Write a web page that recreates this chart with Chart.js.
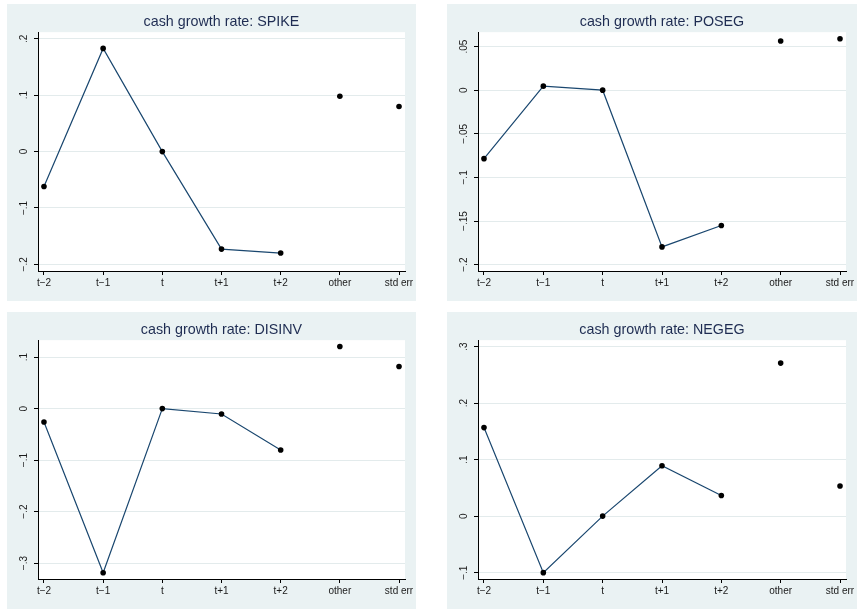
<!DOCTYPE html>
<html>
<head>
<meta charset="utf-8">
<script src="https://cdn.jsdelivr.net/npm/chart.js@4.4.1/dist/chart.umd.min.js"></script>
<style>
  html, body { margin: 0; padding: 0; background: #fff; }
  body { width: 857px; height: 609px; position: relative; overflow: hidden; }
  .panel { position: absolute; background: #eaf2f3; }
  .panel canvas { display: block; }
</style>
</head>
<body>
<div class="panel" style="left:7px;top:4px;width:409px;height:297px"><canvas id="spike" width="409" height="297"></canvas></div>
<div class="panel" style="left:447px;top:4px;width:410px;height:297px"><canvas id="poseg" width="410" height="297"></canvas></div>
<div class="panel" style="left:7px;top:312px;width:409px;height:297px"><canvas id="disinv" width="409" height="297"></canvas></div>
<div class="panel" style="left:447px;top:312px;width:410px;height:297px"><canvas id="negeg" width="410" height="297"></canvas></div>
<script>
// categories on the x axis (first five are joined by the line)
const categories = ['t\u22122', 't\u22121', 't', 't+1', 't+2', 'other', 'std err'];

// cash growth rate per panel
const spikeVals  = [-0.062, 0.183, 0, -0.173, -0.180, 0.098, 0.080];
const posegVals  = [-0.0785, 0.0046, 0, -0.1797, -0.1552, 0.0563, 0.059];
const disinvVals = [-0.026, -0.319, 0, -0.0104, -0.0805, 0.1208, 0.0818];
const negegVals  = [0.1566, -0.100, 0, 0.0892, 0.0366, 0.2706, 0.0532];

// y ticks and their labels
const spikeTicks  = [-0.2, -0.1, 0, 0.1, 0.2];
const spikeLabels = ['\u2212.2', '\u2212.1', '0', '.1', '.2'];
const posegTicks  = [-0.2, -0.15, -0.1, -0.05, 0, 0.05];
const posegLabels = ['\u2212.2', '\u2212.15', '\u2212.1', '\u2212.05', '0', '.05'];
const disinvTicks  = [-0.3, -0.2, -0.1, 0, 0.1];
const disinvLabels = ['\u2212.3', '\u2212.2', '\u2212.1', '0', '.1'];
const negegTicks  = [-0.1, 0, 0.1, 0.2, 0.3];
const negegLabels = ['\u2212.1', '0', '.1', '.2', '.3'];

// axis ranges
const spikeRange  = [-0.2118, 0.2118];
const posegRange  = [-0.2073, 0.0665];
const disinvRange = [-0.331, 0.133];
const negegRange  = [-0.1112, 0.3112];

const navy = '#1a476f';
const titleColor = '#1e2c52';
const tickColor = '#1a1a1a';
const gridColor = '#e3ebec';
const family = '"Liberation Sans", Arial, sans-serif';

// white plot region on the bluish-gray panel
const plotBg = {
  id: 'plotBg',
  beforeDraw(chart) {
    const a = chart.chartArea;
    const ctx = chart.ctx;
    ctx.save();
    ctx.fillStyle = '#fff';
    ctx.fillRect(a.left, a.top, a.right - a.left, a.bottom - a.top);
    ctx.restore();
  }
};

const measure = document.createElement('canvas').getContext('2d');
measure.font = '10px ' + family;
function labelPad(labels) {
  const widest = Math.max(...labels.map(l => measure.measureText(l).width));
  return 10 - widest / 2;
}

function drawPanel(id, title, vals, yTicks, yLabels, yRange) {
  new Chart(document.getElementById(id), {
    type: 'line',
    data: {
      datasets: [
        {
          data: vals.slice(0, 5).map((v, i) => ({ x: i, y: v })),
          borderColor: navy,
          borderWidth: 1.2,
          tension: 0,
          pointRadius: 2.8,
          pointBackgroundColor: '#000',
          pointBorderWidth: 0
        },
        {
          data: vals.slice(5).map((v, i) => ({ x: i + 5, y: v })),
          showLine: false,
          pointRadius: 2.8,
          pointBackgroundColor: '#000',
          pointBorderWidth: 0
        }
      ]
    },
    options: {
      responsive: false,
      animation: false,
      devicePixelRatio: 1,
      layout: { padding: { left: 0, right: 11, top: 0, bottom: 0 } },
      plugins: {
        legend: { display: false },
        tooltip: { enabled: false },
        title: {
          display: true,
          text: title,
          fullSize: false,
          color: titleColor,
          font: { family: family, size: 14.3, weight: 'normal', lineHeight: 1.2 },
          padding: { top: 9, bottom: 2 }
        }
      },
      scales: {
        x: {
          type: 'linear',
          min: -0.101,
          max: 6.101,
          afterBuildTicks: s => { s.ticks = categories.map((c, i) => ({ value: i })); },
          afterFit: s => { s.height = 30; s.paddingLeft = 0; s.paddingRight = 0; },
          ticks: {
            callback: (v, i) => categories[i],
            autoSkip: false,
            maxRotation: 0,
            padding: 2,
            color: tickColor,
            font: { family: family, size: 10 }
          },
          grid: { drawOnChartArea: false, tickLength: 4, tickColor: '#000' },
          border: { color: '#000', width: 1 }
        },
        y: {
          min: yRange[0],
          max: yRange[1],
          afterBuildTicks: s => { s.ticks = yTicks.map(v => ({ value: v })); },
          afterFit: s => { s.width = 31; s.paddingTop = 0; s.paddingBottom = 0; },
          ticks: {
            callback: (v, i) => yLabels[i],
            minRotation: 90,
            maxRotation: 90,
            crossAlign: 'center',
            padding: labelPad(yLabels),
            color: tickColor,
            font: { family: family, size: 10 }
          },
          grid: { color: gridColor, lineWidth: 1, tickLength: 4, tickColor: '#000' },
          border: { color: '#000', width: 1 }
        }
      }
    },
    plugins: [plotBg]
  });
}

drawPanel('spike', 'cash growth rate: SPIKE', spikeVals, spikeTicks, spikeLabels, spikeRange);
drawPanel('poseg', 'cash growth rate: POSEG', posegVals, posegTicks, posegLabels, posegRange);
drawPanel('disinv', 'cash growth rate: DISINV', disinvVals, disinvTicks, disinvLabels, disinvRange);
drawPanel('negeg', 'cash growth rate: NEGEG', negegVals, negegTicks, negegLabels, negegRange);
</script>
</body>
</html>
